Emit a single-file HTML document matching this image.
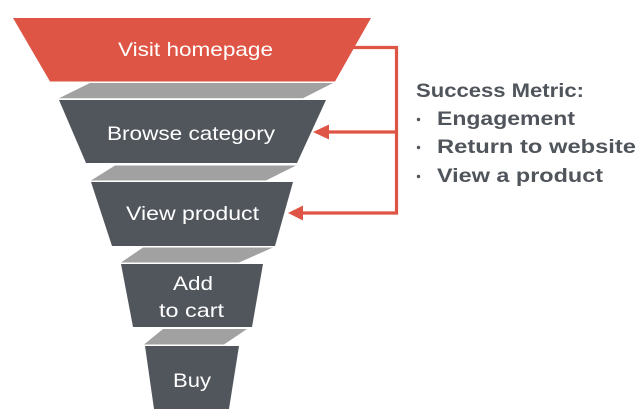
<!DOCTYPE html>
<html>
<head>
<meta charset="utf-8">
<style>
html,body{margin:0;padding:0;background:#fff;}
svg{display:block;}
</style>
</head>
<body>
<svg width="639" height="416" viewBox="0 0 639 416" xmlns="http://www.w3.org/2000/svg">
<rect width="639" height="416" fill="#ffffff"/>
<!-- Funnel -->
<polygon points="13,18 371,18 335,81.5 50,81.5" fill="#df5545"/>
<polygon points="90,83 333,83 303,98.3 59,98.3" fill="#a1a1a1"/>
<polygon points="59,100 326,100 297,163 86,163" fill="#51565d"/>
<polygon points="115,165.5 296,165.5 266,180.5 91,180.5" fill="#a1a1a1"/>
<polygon points="91,182 293,182 275,246 112,246" fill="#51565d"/>
<polygon points="143,247.5 273,247.5 239,262.5 121,262.5" fill="#a1a1a1"/>
<polygon points="121,264 263,264 252,327 133,327" fill="#51565d"/>
<polygon points="163,329 247,329 224,344.5 144,344.5" fill="#a1a1a1"/>
<polygon points="145,346 239,346 229,409 154,409" fill="#51565d"/>

<g font-family="Liberation Sans, sans-serif" font-size="19.5" fill="#ffffff" text-anchor="start">
<text x="118" y="56" textLength="155" lengthAdjust="spacingAndGlyphs">Visit homepage</text>
<text x="107" y="140" textLength="168" lengthAdjust="spacingAndGlyphs">Browse category</text>
<text x="126" y="220" textLength="133" lengthAdjust="spacingAndGlyphs">View product</text>
<text x="173" y="290" textLength="40" lengthAdjust="spacingAndGlyphs">Add</text>
<text x="159" y="317" textLength="65" lengthAdjust="spacingAndGlyphs">to cart</text>
<text x="173" y="387" textLength="38" lengthAdjust="spacingAndGlyphs">Buy</text>
</g>

<!-- Connector -->
<polyline points="350,47.5 396.5,47.5 396.5,213 300,213" fill="none" stroke="#df5545" stroke-width="3.2" stroke-linejoin="miter"/>
<line x1="326" y1="132" x2="397" y2="132" stroke="#df5545" stroke-width="3.2"/>
<polygon points="313,132 329,124.5 329,139.5" fill="#df5545"/>
<polygon points="288,213 303,205.5 303,220.5" fill="#df5545"/>

<!-- Right text -->
<g font-family="Liberation Sans, sans-serif" font-size="19.5" font-weight="bold" fill="#50555c">
<text x="416" y="97" textLength="168" lengthAdjust="spacingAndGlyphs">Success Metric:</text>
<text x="437" y="125" textLength="138" lengthAdjust="spacingAndGlyphs">Engagement</text>
<text x="437" y="153" textLength="199" lengthAdjust="spacingAndGlyphs">Return to website</text>
<text x="437" y="182" textLength="166" lengthAdjust="spacingAndGlyphs">View a product</text>
</g>
<circle cx="418.5" cy="119.5" r="1.7" fill="#50555c"/>
<circle cx="418.5" cy="147.5" r="1.7" fill="#50555c"/>
<circle cx="418.5" cy="176.5" r="1.7" fill="#50555c"/>
</svg>
</body>
</html>
